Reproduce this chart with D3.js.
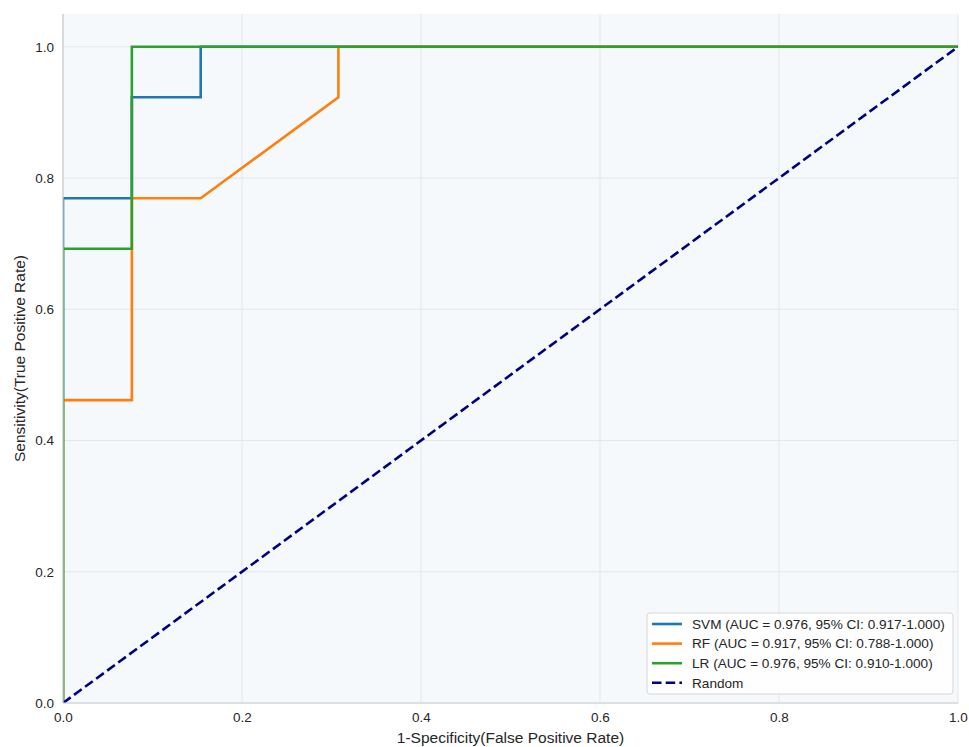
<!DOCTYPE html>
<html>
<head>
<meta charset="utf-8">
<script src="https://cdn.jsdelivr.net/npm/d3@7"></script>
<style>
  html, body { margin: 0; padding: 0; background: #ffffff; }
  svg { display: block; font-family: "Liberation Sans", Arial, sans-serif; }
</style>
</head>
<body>
<svg id="chart" width="969" height="747"></svg>
<script>
// ROC curves: false positive rate (x) vs true positive rate (y)
const svmFpr = [0, 0, 1/13, 1/13, 2/13, 2/13, 1];
const svmTpr = [0, 10/13, 10/13, 12/13, 12/13, 1, 1];
const rfFpr = [0, 0, 1/13, 1/13, 2/13, 4/13, 4/13, 1];
const rfTpr = [0, 6/13, 6/13, 10/13, 10/13, 12/13, 1, 1];
const lrFpr = [0, 0, 1/13, 1/13, 1];
const lrTpr = [0, 9/13, 9/13, 1, 1];
const randomFpr = [0, 1];
const randomTpr = [0, 1];

const seriesNames = ["SVM", "RF", "LR"];
const aucValues = ["0.976", "0.917", "0.976"];
const ciLow = ["0.917", "0.788", "0.910"];
const ciHigh = ["1.000", "1.000", "1.000"];
const seriesColors = ["#1f77b4", "#ff7f0e", "#2ca02c"];

const xTicks = [0, 0.2, 0.4, 0.6, 0.8, 1.0];
const yTicks = [0, 0.2, 0.4, 0.6, 0.8, 1.0];

const margin = { left: 63, right: 11, top: 14, bottom: 44 };
const W = 969, H = 747;
const svg = d3.select("#chart");

const x = d3.scaleLinear().domain([0, 1]).range([margin.left, W - margin.right]);
const y = d3.scaleLinear().domain([0, 1.05]).range([H - margin.bottom, margin.top]);

// plot background
svg.append("rect")
  .attr("x", x(0)).attr("y", y(1.05))
  .attr("width", x(1) - x(0)).attr("height", y(0) - y(1.05))
  .attr("fill", "#f5f9fc");

// grid
const grid = svg.append("g");
grid.selectAll("line.vx").data(xTicks).join("line")
  .attr("x1", d => x(d)).attr("x2", d => x(d))
  .attr("y1", y(0)).attr("y2", y(1.05))
  .attr("stroke", "#e3e7ea").attr("stroke-width", 1);
grid.selectAll("line.hy").data(yTicks).join("line")
  .attr("y1", d => y(d)).attr("y2", d => y(d))
  .attr("x1", x(0)).attr("x2", x(1))
  .attr("stroke", "#e3e7ea").attr("stroke-width", 1);

// clip to plot area
svg.append("clipPath").attr("id", "plotClip")
  .append("rect")
  .attr("x", x(0)).attr("y", y(1.05))
  .attr("width", x(1) - x(0)).attr("height", y(0) - y(1.05));

const line = d3.line().x(d => x(d[0])).y(d => y(d[1]));
const curves = svg.append("g").attr("clip-path", "url(#plotClip)");

const seriesData = [
  d3.zip(svmFpr, svmTpr),
  d3.zip(rfFpr, rfTpr),
  d3.zip(lrFpr, lrTpr)
];
seriesData.forEach((pts, i) => {
  curves.append("path")
    .datum(pts)
    .attr("d", line)
    .attr("fill", "none")
    .attr("stroke", seriesColors[i])
    .attr("stroke-width", 2.6)
    .attr("stroke-linejoin", "miter");
});
curves.append("path")
  .datum(d3.zip(randomFpr, randomTpr))
  .attr("d", line)
  .attr("fill", "none")
  .attr("stroke", "#000080")
  .attr("stroke-width", 2.6)
  .attr("stroke-dasharray", "9.5,4.2");

// spines (left and bottom only)
svg.append("line")
  .attr("x1", x(0)).attr("x2", x(0)).attr("y1", y(0)).attr("y2", y(1.05))
  .attr("stroke", "#cccccc").attr("stroke-width", 1.2);
svg.append("line")
  .attr("x1", x(0)).attr("x2", x(1)).attr("y1", y(0)).attr("y2", y(0))
  .attr("stroke", "#cccccc").attr("stroke-width", 1.2);

// axes
const xAxis = svg.append("g")
  .attr("transform", `translate(0,${y(0)})`)
  .call(d3.axisBottom(x).tickValues(xTicks).tickFormat(d3.format(".1f")).tickSize(0).tickPadding(9));
const yAxis = svg.append("g")
  .attr("transform", `translate(${x(0)},0)`)
  .call(d3.axisLeft(y).tickValues(yTicks).tickFormat(d3.format(".1f")).tickSize(0).tickPadding(9));
[xAxis, yAxis].forEach(a => {
  a.select(".domain").remove();
  a.selectAll("text")
    .attr("font-family", "'Liberation Sans', Arial, sans-serif")
    .attr("font-size", 13.5).attr("fill", "#262626");
});

// axis labels
svg.append("text")
  .attr("x", (x(0) + x(1)) / 2).attr("y", 743)
  .attr("text-anchor", "middle")
  .attr("font-size", 15.5).attr("fill", "#262626")
  .text("1-Specificity(False Positive Rate)");
svg.append("text")
  .attr("transform", `translate(25,${(y(0) + y(1.05)) / 2}) rotate(-90)`)
  .attr("text-anchor", "middle")
  .attr("font-size", 15.5).attr("fill", "#262626")
  .text("Sensitivity(True Positive Rate)");

// legend
const legendLabels = seriesNames.map((n, i) =>
  `${n} (AUC = ${aucValues[i]}, 95% CI: ${ciLow[i]}-${ciHigh[i]})`).concat(["Random"]);
const legendColors = seriesColors.concat(["#000080"]);
const lg = svg.append("g").attr("transform", "translate(647,613)");
lg.append("rect")
  .attr("x", 0).attr("y", 0).attr("width", 306).attr("height", 81)
  .attr("rx", 3).attr("fill", "#ffffff").attr("fill-opacity", 0.85)
  .attr("stroke", "#d6d6d6").attr("stroke-width", 1);
legendLabels.forEach((lab, i) => {
  const cy = 11 + i * 19.6;
  lg.append("line")
    .attr("x1", 5).attr("x2", 35).attr("y1", cy).attr("y2", cy)
    .attr("stroke", legendColors[i]).attr("stroke-width", 2.6)
    .attr("stroke-dasharray", i === 3 ? "9.5,4.2" : null);
  lg.append("text")
    .attr("x", 45).attr("y", cy + 4.8)
    .attr("font-size", 13.6).attr("fill", "#262626")
    .text(lab);
});
</script>
</body>
</html>
